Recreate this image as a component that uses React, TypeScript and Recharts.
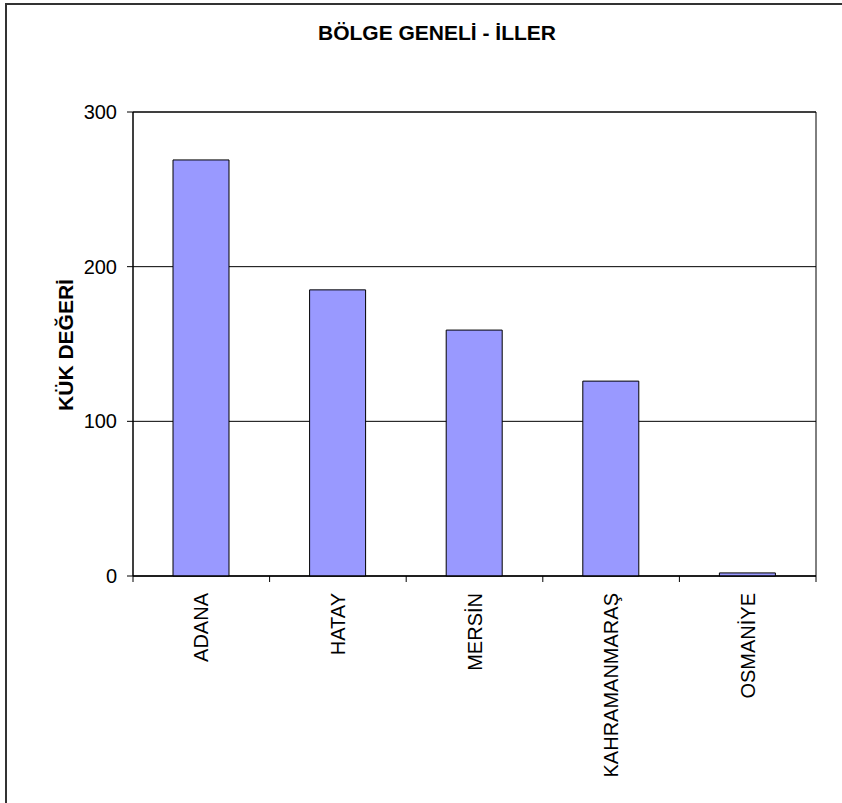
import { BarChart, Bar, XAxis, YAxis, CartesianGrid, ReferenceArea } from "recharts";

const cities = ["ADANA", "HATAY", "MERSİN", "KAHRAMANMARAŞ", "OSMANİYE"];
const kukValues = [269, 185, 159, 126, 2];
const yTicks = [0, 100, 200, 300];

const chartData = cities.map((city, i) => ({ city, value: kukValues[i] }));

const FONT = "'Liberation Sans', Arial, sans-serif";

// ticks sit on the band edges, labels are rotated under the band centre
function CityTick(props: any) {
    const { x, y, payload, index, width, visibleTicksCount } = props;
    const half = width / visibleTicksCount / 2;
    const isLast = index === visibleTicksCount - 1;
    return (
        <g>
            <line x1={x - half} x2={x - half} y1={y} y2={y + 6} stroke="#000" />
            {isLast && <line x1={x + half} x2={x + half} y1={y} y2={y + 6} stroke="#000" />}
            <text
                x={x}
                y={y + 17}
                dy="0.36em"
                transform={`rotate(-90, ${x}, ${y + 17})`}
                textAnchor="end"
                fontSize={20}
                fontFamily={FONT}
                fill="#000"
            >
                {payload.value}
            </text>
        </g>
    );
}

export default function App() {
    return (
        <div style={{ position: "absolute", left: 0, top: 0, width: 842, height: 803, background: "#fff" }}>
            <div
                style={{
                    position: "absolute",
                    left: 5,
                    top: 3,
                    width: 837,
                    height: 800,
                    borderTop: "2px solid #333",
                    borderLeft: "2px solid #333",
                }}
            />
            <svg width={842} height={803} style={{ position: "absolute", left: 0, top: 0 }}>
                <text x={437} y={40} textAnchor="middle" fontSize={21} fontWeight="bold" fontFamily={FONT} fill="#000">
                    BÖLGE GENELİ - İLLER
                </text>
                <text
                    x={73}
                    y={345}
                    transform="rotate(-90, 73, 345)"
                    textAnchor="middle"
                    fontSize={21}
                    fontWeight="bold"
                    fontFamily={FONT}
                    fill="#000"
                >
                    KÜK DEĞERİ
                </text>
            </svg>
            <div style={{ position: "absolute", left: 0, top: 0 }}>
                <BarChart width={842} height={803} data={chartData} margin={{ top: 112, right: 26, bottom: 27, left: 53 }}>
                    <CartesianGrid vertical={false} stroke="#000" />
                    <ReferenceArea x1="ADANA" x2="OSMANİYE" y1={0} y2={300} fill="none" stroke="#000" ifOverflow="visible" />
                    <XAxis
                        dataKey="city"
                        height={200}
                        interval={0}
                        tickLine={false}
                        tickSize={0}
                        tickMargin={0}
                        axisLine={{ stroke: "#000" }}
                        tick={<CityTick />}
                    />
                    <YAxis
                        width={80}
                        domain={[0, 300]}
                        ticks={yTicks}
                        tickSize={6}
                        tickMargin={10}
                        axisLine={{ stroke: "#000" }}
                        tickLine={{ stroke: "#000" }}
                        tick={{ fill: "#000", fontSize: 20, fontFamily: FONT }}
                    />
                    <Bar dataKey="value" fill="#9999FF" stroke="#000" strokeWidth={1} barSize={56} isAnimationActive={false} />
                </BarChart>
            </div>
        </div>
    );
}
